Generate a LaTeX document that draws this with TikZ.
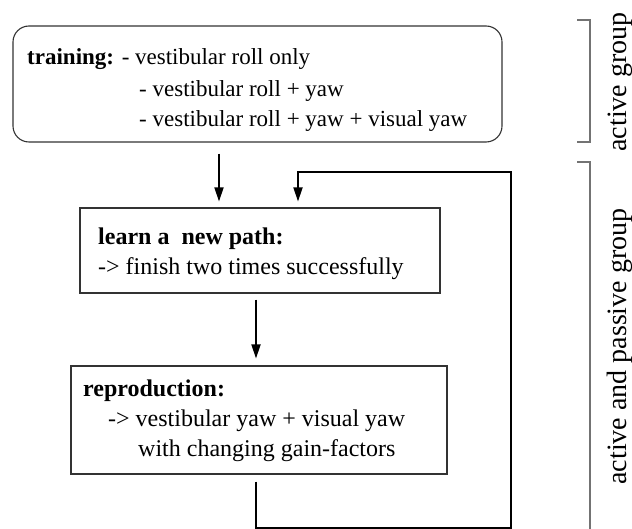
\documentclass[tikz,border=0pt]{standalone}
\usepackage{fontspec}
\setmainfont{Liberation Serif}
\usetikzlibrary{arrows.meta}
\begin{document}
\begin{tikzpicture}[x=1pt,y=-1pt,
  box/.style={draw=black!80, line width=1.1pt, inner sep=0pt},
  txt/.style={anchor=base west, inner sep=0pt, font=\fontsize{24}{28}\selectfont},
  ttxt/.style={txt, font=\fontsize{23}{27}\selectfont},
  rtxt/.style={rotate=90, anchor=base, inner sep=0pt, font=\fontsize{28}{32}\selectfont},
  arr/.style={line width=1.8pt, -{Triangle[length=14pt,width=9pt]}},
  brk/.style={draw=black!55, line width=1.3pt}]
\useasboundingbox (0,0) rectangle (632,529);
% boxes
\node[box, rounded corners=16pt, minimum width=489pt, minimum height=116pt] (train) at (257.5,84) {};
\node[box, minimum width=360pt, minimum height=85pt] (learn) at (260,250.5) {};
\node[box, minimum width=376pt, minimum height=108pt] (repro) at (259,420) {};
% texts
\node[ttxt] (t1) at (27,65) {\textbf{training:} - vestibular roll only};
\node[ttxt] (t3) at (139,97) {- vestibular roll + yaw};
\node[ttxt] (t4) at (139,127) {- vestibular roll + yaw + visual yaw};
\node[txt] (l1) at (98,245) {\textbf{learn a\ \ new path:}};
\node[txt] (l2) at (98,275) {-> finish two times successfully};
\node[txt] (r1) at (83,396) {\textbf{reproduction:}};
\node[txt] (r2) at (108,426) {-> vestibular yaw + visual yaw};
\node[txt] (r3) at (138,456) {with changing gain-factors};
% connectors
\coordinate (a1) at (219,0);
\coordinate (a2) at (256,0);
\coordinate (a3) at (298,0);
\coordinate (fb1) at (256,528);
\coordinate (fb2) at (511,528);
\coordinate (fb3) at (511,172);
\draw[arr, shorten <=11pt, shorten >=6pt] (train.south -| a1) -- (learn.north -| a1);
\draw[arr, shorten <=6pt, shorten >=7pt] (learn.south -| a2) -- (repro.north -| a2);
\draw[arr, shorten <=7pt, shorten >=6pt] (repro.south -| a2) -- (fb1) -- (fb2) -- (fb3) -- (fb3 -| a3) -- (learn.north -| a3);
% brackets
\coordinate (b1t) at (590,20);
\coordinate (b1b) at (590,142);
\coordinate (b2t) at (590,162);
\coordinate (b2b) at (590,529);
\draw[brk] (b1t -| 577,0) -- (b1t) -- (b1b) -- (b1b -| 577,0);
\draw[brk] (b2t -| 577,0) -- (b2t) -- (b2b);
\node[rtxt] (g1) at (626,82) {active group};
\node[rtxt] (g2) at (626,346.5) {active and passive group};
\end{tikzpicture}
\end{document}
